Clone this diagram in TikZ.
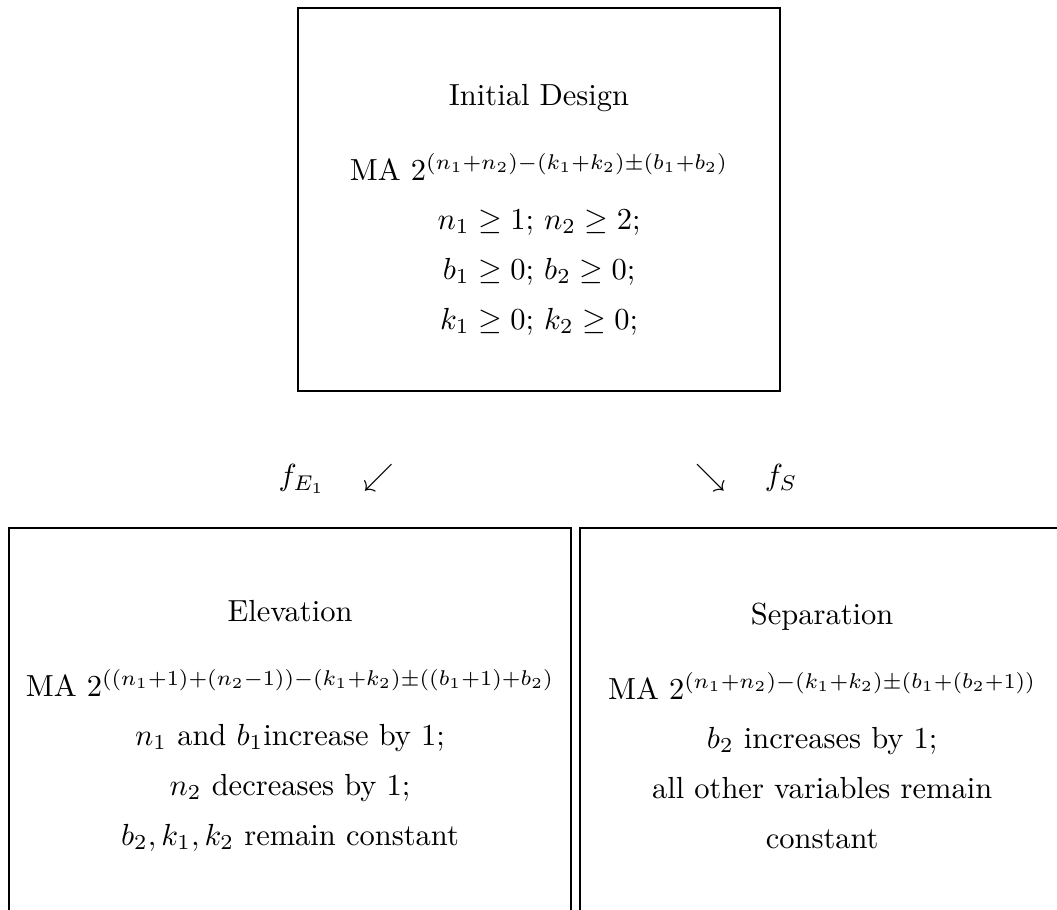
\documentclass[tikz,border=0pt]{standalone}
\usepackage{amsmath,amssymb}
\usepackage{tikz}
\usetikzlibrary{positioning}

\begin{document}
\begin{tikzpicture}[semithick,
  design node/.style={draw,rectangle,align=center,minimum height=4.414cm,inner sep=0pt},
  map label/.style={anchor=base}]
  \clip (0,0) rectangle (12.18,-10.476);
  \node[design node,minimum width=5.555cm] (init) at (6.212,-2.299) {\rule{0pt}{13.5pt}Initial Design\\[12.6pt]
    MA $2^{(n_1+n_2)-(k_1+k_2)\pm(b_1+b_2)}$\\[4pt]
    $n_1\geq 1$; $n_2\geq 2$;\\[4.4pt]
    $b_1\geq 0$; $b_2\geq 0$;\\[4.4pt]
    $k_1\geq 0$; $k_2\geq 0$;};
  \node[design node,anchor=north,minimum width=6.477cm,minimum height=4.45cm] (elev) at (3.342,-6.074) {\rule{0pt}{10pt}Elevation\\[12.6pt]
    MA $2^{((n_1+1)+(n_2-1))-(k_1+k_2)\pm((b_1+1)+b_2)}$\\[4pt]
    $n_1$ and $b_1$increase by 1;\\[4.4pt]
    $n_2$ decreases by 1;\\[4.4pt]
    $b_2, k_1, k_2$ remain constant};
  \node[design node,anchor=north,minimum width=5.578cm,minimum height=4.45cm] (sep) at (9.474,-6.074) {\rule{0pt}{10pt}Separation\\[12.6pt]
    MA $2^{(n_1+n_2)-(k_1+k_2)\pm(b_1+(b_2+1))}$\\[4pt]
    $b_2$ increases by 1;\\[4.4pt]
    all other variables remain\\[4.4pt]
    constant};
  % the two maps
  \node[map label] (fe) at (3.878,-5.60) {$f_{E_1}\quad\swarrow$};
  \node[map label] (fs) at (8.60,-5.60) {$\searrow\quad f_S$};
\end{tikzpicture}
\end{document}
